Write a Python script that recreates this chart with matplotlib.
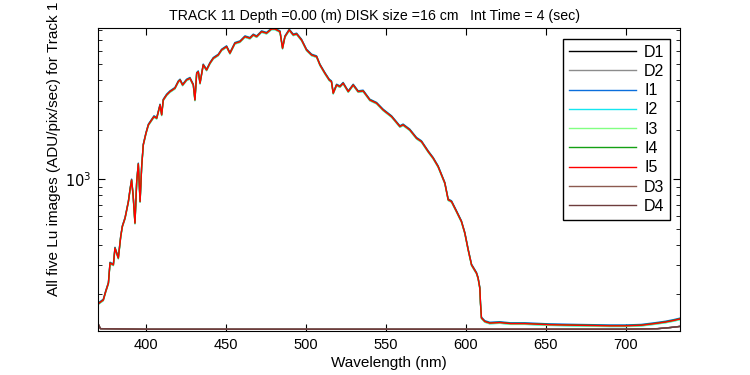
import matplotlib
matplotlib.use("Agg")
import matplotlib.pyplot as plt
import numpy as np

plt.rcParams['font.family'] = ['Liberation Sans', 'DejaVu Sans']

# wavelength (nm) and Lu signal (ADU/pix/sec)
wl = [370.0, 371.3, 373.3, 374.8, 376.5, 377.5, 379.6, 380.6, 382.7, 384.2,
      385.2, 386.9, 389.0, 390.0, 391.0, 392.0, 393.1, 394.2, 395.2, 396.3,
      397.3, 398.3, 400.0, 401.5, 403.6, 405.0, 406.7, 408.8, 409.8, 410.8,
      412.9, 415.0, 418.1, 420.2, 421.3, 422.9, 425.4, 427.5, 429.6, 430.6,
      431.7, 432.7, 433.8, 435.8, 437.9, 440.0, 442.1, 445.2, 447.3, 450.4,
      452.5, 455.6, 458.8, 461.9, 465.0, 467.1, 469.2, 472.3, 475.4, 478.5,
      480.6, 483.8, 485.4, 486.9, 489.6, 492.1, 494.2, 497.3, 500.4, 503.6,
      506.7, 508.8, 511.9, 514.6, 516.0, 517.1, 519.2, 521.3, 523.3, 526.5,
      529.6, 532.7, 535.8, 540.0, 544.2, 548.3, 553.6, 558.8, 560.8, 565.0,
      569.2, 572.3, 576.5, 579.6, 582.7, 584.8, 586.9, 589.0, 591.1, 594.2,
      597.3, 599.4, 601.5, 603.6, 606.7, 607.7, 608.8, 609.2, 609.8, 611.9,
      615.0, 621.3, 628.0, 636.9, 652.5, 670.0, 690.0, 700.0, 709.7, 718.0,
      725.0, 730.0, 734.0]
lu = [175, 179, 185, 208, 234, 310, 302, 382, 332, 449,
      516, 580, 731, 861, 990, 785, 541, 967, 1238, 731,
      1192, 1614, 1900, 2135, 2288, 2396, 2342, 2820, 2454, 3021,
      3242, 3396, 3559, 3905, 3997, 3725, 3997, 4093, 3725, 3021,
      4385, 4487, 3818, 4933, 4592, 5047, 5410, 5664, 6077, 6366,
      5803, 6668, 6823, 7317, 7157, 7500, 7317, 7849, 7680, 8147,
      8147, 7849, 6223, 7317, 8036, 7500, 7600, 6980, 6077, 5664,
      5533, 4933, 4385, 3997, 3905, 3320, 3725, 3640, 3818, 3396,
      3725, 3396, 3428, 3021, 2890, 2630, 2396, 2086, 2135, 1989,
      1771, 1690, 1469, 1340, 1192, 1062, 946, 750, 731, 637,
      553, 471, 373, 302, 269, 251, 218, 177, 144, 137,
      134, 135, 133, 133, 131, 130, 129, 129, 130, 133,
      136, 139, 142]

# dark frames
dark_wl = [370.0, 371.5, 400.0, 450.0, 500.0, 550.0, 600.0, 650.0, 700.0, 720.0, 728.0, 734.0]
dark = [133, 124, 123, 123, 123, 123, 123, 123, 123, 124, 126, 128]

names = ['D1', 'D2', 'I1', 'I2', 'I3', 'I4', 'I5', 'D3', 'D4']
colors = ['#000000', '#8c8c8c', '#0a6edc', '#14e6f0', '#82ff82',
          '#14a014', '#ff0000', '#8c5a50', '#6e3c3c']
# relative level of each image vs I5 (for the light images)
scale = {'I1': 1.012, 'I2': 0.99, 'I3': 0.993, 'I4': 1.004, 'I5': 1.0}

fig = plt.figure(figsize=(7.5, 3.75), dpi=100)
ax = fig.add_axes([0.1307, 0.1173, 0.776, 0.808])

for name, c in zip(names, colors):
    if name.startswith('I'):
        ax.plot(wl, np.array(lu) * scale[name], color=c, lw=1.0, label=name)
    else:
        ax.plot(dark_wl, dark, color=c, lw=1.0, label=name)

ax.set_yscale('log')
ax.set_xlim(370, 734)
ax.set_ylim(120, 8260)
ax.set_xticks([400, 450, 500, 550, 600, 650, 700])
ax.set_yticks([1000])
ax.tick_params(which='both', direction='in', top=True, right=True, labelsize=10.5)
ax.tick_params(which='major', length=5, pad=5)
ax.tick_params(which='minor', length=3)
ax.set_yticklabels([r'$10^3$'])

ax.set_xlabel('Wavelength (nm)', fontsize=11, labelpad=3)
ax.set_ylabel('All five Lu images (ADU/pix/sec) for Track 1', fontsize=11)
ax.yaxis.set_label_coords(-0.064, 0.6)
ax.set_title('TRACK 11 Depth =0.00 (m) DISK size =16 cm   Int Time = 4 (sec)',
             fontsize=10.2, pad=6, x=0.475)

leg = ax.legend(loc='upper right', bbox_to_anchor=(0.983, 0.964), fontsize=11.5,
                frameon=True, fancybox=False, framealpha=1, edgecolor='black',
                handlelength=4.2, labelspacing=0.27, borderpad=0.35,
                borderaxespad=0, handletextpad=0.5)
leg.get_frame().set_linewidth(1.0)

fig.savefig('out.png', dpi=100)
